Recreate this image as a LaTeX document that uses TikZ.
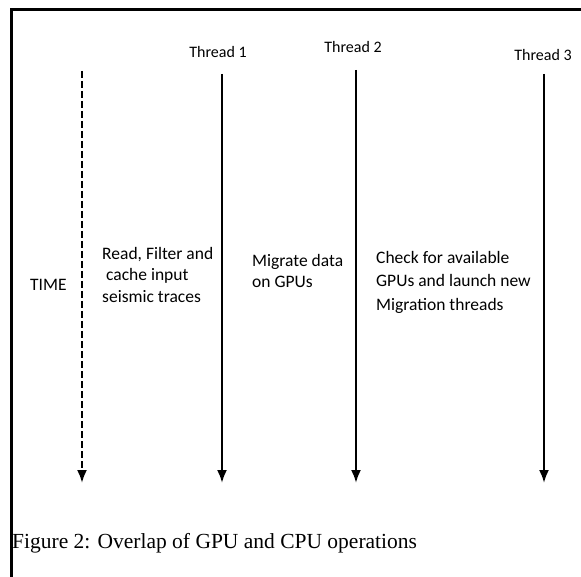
\documentclass[tikz,border=0pt]{standalone}
\usepackage{fontspec}
\setmainfont{Liberation Serif}
\newfontfamily\carlitofnt{Carlito}
\usetikzlibrary{arrows.meta}
\begin{document}
\begin{tikzpicture}[x=1pt,y=-1pt,
  lbl/.style={font=\carlitofnt\fontsize{16}{21}\selectfont, inner sep=0pt},
  txt/.style={font=\carlitofnt\fontsize{17.5}{21.5}\selectfont, inner sep=0pt, align=left, anchor=north west},
  tl/.style={line width=2.2pt, -{Latex[length=13pt,width=10pt]}},
  frame/.style={line width=3pt}]
\useasboundingbox (0,0) rectangle (581,577);
\coordinate (f1) at (11,577);
\coordinate (f2) at (11,10);
\coordinate (f3) at (581,10);
\draw[frame] (f1) -- (f2) -- (f3);

\node[lbl] (h1) at (218,52) {Thread 1};
\node[lbl] (h2) at (353,47) {Thread 2};
\node[lbl] (h3) at (543,55) {Thread 3};

\coordinate (t0) at (82,71);   \coordinate (t1) at (82,483);
\coordinate (a0) at (222,74);  \coordinate (a1) at (222,483);
\coordinate (b0) at (356,70);  \coordinate (b1) at (356,483);
\coordinate (c0) at (544,74);  \coordinate (c1) at (544,483);

\draw[tl, dash pattern=on 7pt off 3pt] (t0) -- (t1);
\draw[tl] (a0) -- (a1);
\draw[tl] (b0) -- (b1);
\draw[tl] (c0) -- (c1);

\node[txt, anchor=base west] (time) at (30,291) {TIME};
\node[txt] (x1) at (102,247) {Read, Filter and\\ \ cache input\\seismic traces};
\node[txt] (x2) at (252,254) {Migrate data\\on GPUs};
\node[txt, font=\carlitofnt\fontsize{17.5}{23.5}\selectfont] (x3) at (376,251) {Check for available\\GPUs and launch new\\Migration threads};

\node[font=\fontsize{21.5}{24}\selectfont, inner sep=0pt, anchor=base west] (cap) at (12,548) {Figure 2: Overlap of GPU and CPU operations};
\end{tikzpicture}
\end{document}
